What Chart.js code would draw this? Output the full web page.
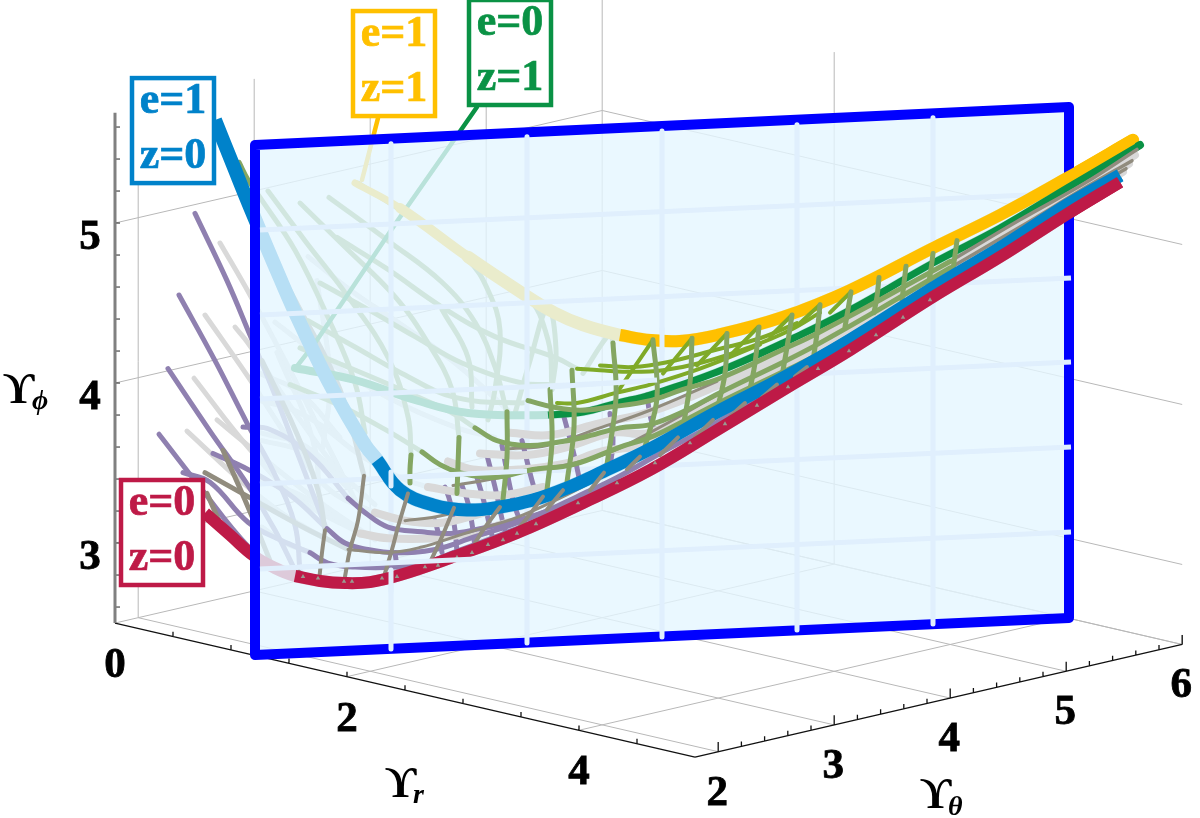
<!DOCTYPE html>
<html>
<head>
<meta charset="utf-8">
<style>
  html, body { margin: 0; padding: 0; background: #fff; }
  canvas { display: block; }
</style>
<script src="https://cdn.jsdelivr.net/npm/chart.js@4/dist/chart.umd.min.js"></script>
</head>
<body>
<canvas id="chart" width="1200" height="818"></canvas>
<script>
// 3D picture flattened on the page plane: x is the horizontal reading (r + theta, in hundreds
// of plane units), y is the height read against the Upsilon_phi axis.
const rTicks = [0, 2, 4];
const thetaTicks = [2, 3, 4, 5, 6];
const phiTicks = [3, 4, 5];
const boxLabels = [["e=1", "z=0"], ["e=1", "z=1"], ["e=0", "z=1"], ["e=0", "z=0"]];

// the four thick edges of the surface
const redCurve = [[2.05,3.188],[2.30,3.050],[2.54,2.919],[2.75,2.844],[2.95,2.794],[3.20,2.763],[3.45,2.750],[3.70,2.756],[4.00,2.800],[4.50,2.906],[5.17,3.063],[5.83,3.250],[6.50,3.456],[7.17,3.706],[7.83,3.956],[8.50,4.206],[9.33,4.538],[10.00,4.788],[10.67,5.056],[11.20,5.256]];
const blueCurve = [[2.15,5.644],[2.33,5.363],[2.50,5.100],[2.80,4.656],[3.00,4.375],[3.33,3.956],[3.65,3.613],[3.77,3.519],[4.00,3.331],[4.33,3.238],[4.67,3.206],[5.00,3.225],[5.33,3.269],[5.67,3.344],[6.00,3.438],[6.50,3.588],[7.17,3.819],[7.83,4.031],[8.50,4.269],[9.33,4.594],[10.00,4.844],[10.67,5.113],[11.20,5.300]];
const yellowCurve = [[3.55,5.250],[4.00,5.094],[4.68,4.788],[5.22,4.563],[5.55,4.438],[5.83,4.363],[6.20,4.300],[6.50,4.269],[6.80,4.263],[7.17,4.300],[7.83,4.413],[8.50,4.581],[9.33,4.844],[10.00,5.050],[10.67,5.281],[11.33,5.519]];
const greenCurve = [[2.95,4.094],[3.55,4.019],[4.15,3.894],[4.68,3.813],[5.48,3.800],[5.83,3.819],[6.17,3.875],[6.50,3.925],[7.17,4.069],[7.83,4.250],[8.50,4.456],[9.33,4.750],[10.00,4.969],[10.67,5.219],[11.40,5.488]];
const yellowLeader = [[3.78,5.656],[3.62,5.269]];
const greenLeader = [[4.77,5.725],[4.47,5.456],[3.98,5.019],[3.15,4.250],[2.97,4.106]];

// mesh behind the panel
const oliveBack = [
  [[2.39,5.38],[2.48,5.27],[2.60,5.16],[2.95,4.83],[3.28,4.41],[3.55,4.00],[3.65,3.69]],
  [[2.68,5.20],[3.05,4.89],[3.48,4.54],[3.88,4.16],[4.08,3.79],[4.11,3.55]],
  [[3.00,5.125],[3.45,4.85],[3.95,4.54],[4.28,4.25],[4.52,3.96],[4.59,3.66]],
  [[3.29,5.16],[3.88,4.89],[4.42,4.63],[4.75,4.38],[4.95,4.10],[5.07,3.81]],
  [[3.58,5.25],[4.15,5.02],[4.68,4.77],[4.88,4.58],[5.00,4.33],[4.95,3.96],[4.88,3.77]],
  [[4.68,4.77],[5.25,4.56],[5.48,4.27],[5.52,3.96]],
  [[3.37,4.91],[3.88,4.71],[4.42,4.475],[4.95,4.29],[5.55,4.16],[5.77,4.09]],
  [[3.20,4.625],[3.68,4.46],[4.15,4.29],[4.62,4.125],[5.22,4.00],[5.52,3.99]],
  [[3.08,4.39],[3.55,4.225],[4.02,4.06],[4.55,3.91],[5.22,3.875],[5.30,3.89]],
  [[3.00,4.22],[3.38,4.125],[3.95,3.975],[4.50,3.82],[4.75,3.72]],
  [[2.90,3.99],[3.40,3.86],[3.85,3.71],[4.22,3.57]],
  [[5.15,3.81],[5.30,4.14],[5.48,4.475],[5.56,4.21],[5.52,3.96]],
  [[5.83,4.06],[6.10,4.31],[6.13,4.25]],
  [[4.42,4.46],[4.68,4.16],[4.72,3.85]]
];
const purpleBack = [
  [[1.95,5.06],[2.27,4.64],[2.50,4.30],[2.75,3.925],[3.00,3.52],[3.25,3.11]],
  [[1.79,4.55],[2.15,4.14],[2.47,3.75],[2.75,3.425],[2.95,3.11],[3.00,2.83]],
  [[1.68,4.09],[2.10,3.70],[2.48,3.36],[2.75,3.08],[2.95,2.83]],
  [[1.59,3.68],[2.00,3.35],[2.48,2.98],[2.80,2.83],[3.00,2.77]],
  [[2.13,3.56],[2.48,3.46],[2.90,3.30],[3.27,3.09]],
  [[1.83,3.44],[2.10,3.38],[2.48,3.13],[2.80,3.02],[3.10,2.94]],
  [[2.43,3.725],[2.70,3.71],[3.10,3.55],[3.48,3.28]]
];
const greyBack = [
  [[2.20,4.875],[2.50,4.55],[2.90,4.08],[3.30,3.58],[3.60,3.21]],
  [[2.05,4.425],[2.48,4.04],[2.90,3.64],[3.30,3.33],[3.75,3.19]],
  [[2.35,4.35],[2.48,4.25],[3.00,3.77],[3.45,3.39]],
  [[1.94,4.03],[2.48,3.60],[3.00,3.27],[3.60,3.06]],
  [[2.17,3.77],[2.48,3.61],[3.10,3.30],[3.75,3.02]],
  [[1.87,3.70],[2.48,3.35],[3.00,3.11],[3.40,2.99]],
  [[2.60,3.89],[2.90,3.84],[3.20,3.74],[3.60,3.55],[4.00,3.41],[4.28,3.35]],
  [[2.62,3.64],[3.00,3.58],[3.40,3.43],[3.75,3.24]],
  [[2.62,3.39],[3.00,3.30],[3.40,3.14],[3.60,3.06]],
  [[3.08,4.79],[3.55,4.56],[3.98,4.38],[4.55,4.125],[5.08,3.83]],
  [[2.75,4.38],[3.22,4.16],[3.88,3.91],[4.55,3.725],[4.95,3.66]],
  [[2.62,3.25],[2.88,3.16],[3.22,3.04],[3.45,2.98]],
  [[2.62,3.10],[2.85,3.00],[3.12,2.94]],
  [[2.60,3.69],[3.07,3.60],[3.47,3.35]],
  [[2.60,4.06],[3.00,3.94],[3.40,3.66]],
  [[3.17,4.64],[3.30,4.02],[3.23,3.60]],
  [[2.77,4.19],[3.13,3.64],[3.20,3.19]]
];
const taupeBack = [
  [[2.05,3.44],[2.48,3.29],[3.00,3.11],[3.48,2.96]],
  [[2.23,3.58],[2.48,3.225],[2.70,2.89]],
  [[2.07,3.31],[2.23,3.08]],
  [[2.62,4.89],[3.00,4.46],[3.40,3.96],[3.64,3.42]],
  [[2.62,4.14],[2.95,3.71],[3.18,3.33],[3.25,3.08]]
];

// mesh in front of the panel
const oliveCross = [
  [[4.11,3.55],[4.10,3.46],[4.10,3.375]],
  [[4.59,3.66],[4.58,3.49],[4.57,3.31]],
  [[5.07,3.82],[5.07,3.54],[5.03,3.27]],
  [[5.50,3.96],[5.52,3.64],[5.47,3.33]],
  [[5.72,4.08],[5.74,3.725],[5.67,3.38]],
  [[6.13,4.25],[6.16,3.91],[6.07,3.49]],
  [[6.53,4.27],[6.57,3.91],[6.45,3.60]],
  [[6.92,4.28],[6.90,4.00],[6.83,3.72]],
  [[7.27,4.31],[7.25,4.06],[7.17,3.83]],
  [[7.59,4.35],[7.55,4.125],[7.50,3.96]],
  [[7.92,4.425],[7.87,4.225],[7.83,4.08]],
  [[8.20,4.49],[8.17,4.31],[8.13,4.14]],
  [[8.51,4.57],[8.48,4.46],[8.45,4.35]],
  [[8.79,4.66],[8.77,4.54],[8.74,4.44]],
  [[9.06,4.73],[9.04,4.625],[9.02,4.52]],
  [[9.33,4.81],[9.31,4.71],[9.28,4.60]],
  [[9.57,4.89],[9.55,4.80],[9.53,4.71]]
];
const oliveTop = [[5.28,3.89],[5.53,3.85],[5.80,3.83],[6.10,3.85],[6.50,3.89],[6.83,3.96],[7.20,4.03],[7.83,4.21],[8.17,4.31],[8.83,4.53],[9.50,4.76],[10.20,5.02],[10.85,5.25],[11.37,5.46]];
const oliveMid = [[4.75,3.72],[4.97,3.64],[5.27,3.61],[5.53,3.625],[5.83,3.66],[6.20,3.72],[6.50,3.74],[6.83,3.82],[7.20,3.94],[7.83,4.13],[8.17,4.24],[8.83,4.475],[9.50,4.72],[10.20,4.975],[10.85,5.22],[11.32,5.39]];
const oliveLow = [[4.22,3.57],[4.40,3.49],[4.60,3.44],[4.93,3.41],[5.33,3.46],[5.73,3.49],[6.20,3.60],[6.50,3.66],[6.83,3.76],[7.20,3.88],[7.83,4.07],[8.17,4.175],[8.83,4.42],[9.50,4.68],[10.20,4.94],[10.85,5.19],[11.26,5.34]];
const limeLines = [
  [[5.77,4.09],[6.00,4.08],[6.33,4.07],[6.63,4.08],[7.00,4.125],[7.50,4.225],[7.90,4.33],[8.20,4.44]],
  [[6.00,4.11],[6.33,4.10],[6.67,4.13],[7.17,4.21],[7.60,4.28],[7.97,4.375]],
  [[5.57,3.875],[5.77,3.875],[6.17,3.94],[6.50,3.99],[7.00,4.09],[7.60,4.24]]
];
const limeSpikes = [
  [[6.53,4.27],[6.17,3.94]],
  [[6.92,4.28],[6.63,4.06]],
  [[7.27,4.31],[6.97,4.11]],
  [[7.58,4.35],[7.33,4.19]],
  [[7.92,4.425],[7.70,4.29]],
  [[8.20,4.49],[8.00,4.375]],
  [[8.51,4.57],[8.30,4.44]]
];
const taupeCross = [
  [[3.64,3.42],[3.58,3.14],[3.50,2.96],[3.45,2.79]],
  [[3.25,3.08],[3.22,2.94],[3.19,2.76]],
  [[2.99,2.82],[3.00,2.77]],
  [[4.08,3.31],[3.98,3.10],[3.92,2.96],[3.83,2.77]],
  [[4.54,3.22],[4.42,3.04],[4.30,2.88],[4.25,2.83]],
  [[5.00,3.225],[4.83,3.08],[4.75,3.00]],
  [[5.43,3.29],[5.23,3.125],[5.13,3.06]],
  [[5.63,3.33],[5.47,3.21]],
  [[6.04,3.44],[5.90,3.33]],
  [[6.40,3.54],[6.27,3.46]],
  [[6.78,3.66],[6.60,3.55]],
  [[7.13,3.77],[6.95,3.66]],
  [[7.45,3.875],[7.30,3.79]],
  [[7.77,3.99],[7.62,3.91]],
  [[8.07,4.10],[7.95,4.04]]
];
const taupeLong = [
  [[3.48,2.96],[3.88,2.94],[4.22,2.975],[4.55,3.04],[4.75,3.08],[5.17,3.16],[5.63,3.29],[6.00,3.41]],
  [[4.05,3.14],[4.32,3.16],[4.55,3.19]],
  [[4.53,3.36],[5.00,3.41],[5.30,3.46],[5.67,3.49],[6.07,3.56],[6.50,3.69],[7.17,3.925]],
  [[5.10,3.59],[5.47,3.61],[6.00,3.72],[6.50,3.83],[7.17,4.01]]
];
const purpleLong = [
  [[3.48,3.28],[3.65,3.19],[3.88,3.10],[4.22,3.07],[4.50,3.06],[4.80,3.09],[5.10,3.13],[5.43,3.19],[5.77,3.28],[6.17,3.39]],
  [[3.27,3.09],[3.45,3.00],[3.68,2.96],[3.95,2.94],[4.35,2.96],[4.75,3.04],[5.10,3.11],[5.43,3.19],[5.77,3.29],[6.17,3.41],[6.60,3.56],[7.13,3.74],[7.77,3.98],[8.10,4.09]],
  [[3.10,2.94],[3.28,2.875],[3.55,2.85],[3.95,2.85],[4.28,2.88],[4.53,2.94],[5.00,3.05],[5.50,3.175],[6.00,3.33]]
];
const purpleCross = [
  [[4.45,3.35],[4.50,3.26],[4.55,3.08],[4.57,2.94]],
  [[4.62,3.36],[4.68,3.25],[4.73,3.08],[4.75,2.96]],
  [[4.77,3.41],[4.83,3.28],[4.90,3.10],[4.93,3.02]],
  [[4.87,3.55],[4.95,3.35],[5.03,3.125],[5.06,3.06]],
  [[5.02,3.61],[5.10,3.35],[5.15,3.225],[5.20,3.14]],
  [[5.22,3.64],[5.32,3.39],[5.37,3.29]],
  [[5.63,3.81],[5.73,3.58],[5.78,3.44],[5.80,3.375]],
  [[6.10,3.81],[6.13,3.64],[6.10,3.475]],
  [[6.47,3.925],[6.50,3.80],[6.55,3.69]],
  [[4.35,3.14],[4.40,3.02],[4.42,2.94]],
  [[3.95,2.94],[3.97,2.85]]
];
const greyLong = [
  [[5.10,3.69],[5.50,3.675],[6.00,3.75],[6.50,3.82],[7.20,3.99],[7.83,4.17],[8.83,4.51],[9.50,4.74],[10.20,5.00],[10.85,5.24],[11.35,5.425]],
  [[4.80,3.56],[5.27,3.55],[5.67,3.60],[6.13,3.69],[6.50,3.69],[7.20,3.91],[7.83,4.10],[8.83,4.45],[9.50,4.70],[10.20,4.96],[10.85,5.21],[11.29,5.37]],
  [[4.48,3.51],[4.73,3.46],[5.20,3.46],[5.67,3.50],[6.00,3.57],[6.50,3.625],[7.20,3.85],[7.83,4.04],[8.83,4.40],[9.50,4.66],[10.20,4.925],[10.85,5.18],[11.23,5.32]],
  [[4.28,3.35],[4.67,3.31],[5.03,3.30],[5.43,3.35]],
  [[3.75,3.19],[4.05,3.14],[4.40,3.125],[4.67,3.16],[5.10,3.24]],
  [[3.60,3.06],[3.88,3.03],[4.35,3.03],[4.67,3.06],[5.10,3.13]]
];
const redMarks = [[3.03,2.79],[3.18,2.78],[3.44,2.76],[3.52,2.76],[3.82,2.78],[3.97,2.79],[4.25,2.85],[4.38,2.86],[4.57,2.91],[4.72,2.94],[4.88,2.99],[5.03,3.02],[5.17,3.06],[5.36,3.12],[5.78,3.25],[6.17,3.375],[6.55,3.50],[6.90,3.625],[7.25,3.745],[7.57,3.86],[7.88,3.975],[8.18,4.09],[8.49,4.20],[8.76,4.30],[9.03,4.41],[9.30,4.52]];

// the blue framed panel and the pale lines ruled on it
const panelCorners = [[2.55,5.488],[10.69,5.725],[10.69,2.531],[2.55,2.300],[2.55,5.488]];
const panelColX = [3.91, 5.27, 6.62, 7.97, 9.33];
const panelColTop = [5.495, 5.539, 5.576, 5.614, 5.658];
const panelColBottom = [2.338, 2.375, 2.413, 2.456, 2.494];
const panelRowLeft = [4.956, 4.425, 3.900, 3.369, 2.838];
const panelRowRight = [5.188, 4.656, 4.131, 3.600, 3.069];
const panelOverlaps = [
  [[3.91,3.444],[3.91,3.356]],
  [[3.91,2.831],[3.91,2.694]],
  [[6.62,4.344],[6.62,4.194]],
  [[4.00,3.413],[5.27,3.45]],
  [[5.50,3.975],[6.57,4.019]],
  [[3.00,2.85],[5.30,2.916]]
];

const RED = "#BE1A47", BLUE = "#0082CA", YELLOW = "#FFC000", GREEN = "#0A9245";
const OLIVE = "#84A662", LIME = "#7FAA28", PURPLE = "#8F80B0", GREY = "#D9D9D9", TAUPE = "#918C7E";
const RULE = "#E0EFFD";
const SERIF = '"Liberation Serif", serif';

function project(r, t, p) {
  return { x: 1.15 + 1.16 * (r + t - 1.8), y: p - 0.1675 * (r - t + 1.8) };
}

function pts(list) {
  return list.map((p) => ({ x: p[0], y: p[1] }));
}

const datasets = [];

function addLine(data, color, width, extra) {
  datasets.push(Object.assign({
    data: data,
    showLine: true,
    borderColor: color,
    backgroundColor: color,
    borderWidth: width,
    pointRadius: 0,
    tension: 0,
    borderCapStyle: "round",
    borderJoinStyle: "round",
    fill: false,
    clip: false,
  }, extra || {}));
}

function addCurves(list, color, width) {
  list.forEach((c) => addLine(pts(c), color, width, { tension: 0.4 }));
}

// many short pieces in one dataset, NaN breaks the line between them
function pieces(list) {
  const out = [];
  list.forEach((seg) => {
    out.push(seg[0], seg[1], { x: NaN, y: NaN });
  });
  return out;
}

// walls and floor
const gridSegs = [];
[2, 3, 4, 5, 6].forEach((t) => {
  gridSegs.push([project(0, t, 2.5), project(0, t, 5.7)]);
  gridSegs.push([project(0, t, 2.5), project(5, t, 2.5)]);
});
[2, 4].forEach((r) => {
  gridSegs.push([project(r, 6, 2.5), project(r, 6, 5.7)]);
  gridSegs.push([project(r, 1.8, 2.5), project(r, 6, 2.5)]);
});
[2.5, 3, 4, 5].forEach((p) => {
  gridSegs.push([project(0, 1.8, p), project(0, 6, p)]);
  gridSegs.push([project(0, 6, p), project(5, 6, p)]);
});
gridSegs.push([project(5, 6, 2.5), project(5, 6, 2.56)]);
addLine(pieces(gridSegs), "#B8B8B8", 1, { borderCapStyle: "butt" });

// axes with their tick marks
const axisSegs = [[project(0, 1.8, 2.5), project(5, 1.8, 2.5)], [project(5, 1.8, 2.5), project(5, 6, 2.5)]];
for (let r = 0.5; r < 5; r += 0.5) {
  axisSegs.push([project(r, 1.8, 2.5), project(r, 1.8, 2.53)]);
}
for (let i = 0; i <= 20; i++) {
  const t = 2 + i * 0.2;
  axisSegs.push([project(5, t, 2.5), project(5, t, i % 5 === 0 ? 2.56 : 2.53)]);
}
addLine(pieces(axisSegs), "#111", 1.3, { borderCapStyle: "butt" });
const phiSegs = [];
for (let p = 2.6; p < 5.7; p += 0.2) {
  phiSegs.push([project(0, 1.8, p), { x: project(0, 1.8, p).x + 0.05, y: project(0, 1.8, p).y }]);
}
addLine(pieces(phiSegs), "#222", 1, { borderCapStyle: "butt" });
addLine([project(0, 1.8, 2.5), project(0, 1.8, 5.69)], "#808080", 3, { borderCapStyle: "butt" });

// everything that sits behind the panel, faded by it
addCurves(greyBack, GREY, 5);
addCurves(purpleBack, PURPLE, 5);
addCurves(taupeBack, TAUPE, 5);
addCurves(oliveBack, OLIVE, 5);
addLine(pts(yellowLeader), YELLOW, 4.5);
addLine(pts(greenLeader), GREEN, 4.5);
const yellowTaper = { borderWidth: (ctx) => (ctx.p0DataIndex < 1 ? 7 : ctx.p0DataIndex < 2 ? 10 : 12.5) };
addLine(pts(yellowCurve), YELLOW, 12.5, { tension: 0.4, segment: yellowTaper });
addLine(pts(greenCurve), GREEN, 8, { tension: 0.4 });
addLine(pts(blueCurve), BLUE, 14, { tension: 0.4, borderCapStyle: "butt" });
addLine(pts(redCurve), RED, 12, { tension: 0.4, borderCapStyle: "butt" });

// panel and frame
addLine(pts(panelCorners), "#0000FF", 10, { fill: "shape", backgroundColor: "rgba(229,246,255,0.8)" });

panelRowLeft.forEach((v, i) => {
  addLine([{ x: 2.6, y: v }, { x: 10.71, y: panelRowRight[i] }], RULE, 5, { borderCapStyle: "butt" });
});
panelColX.forEach((v, i) => {
  addLine([{ x: v, y: panelColTop[i] }, { x: v, y: panelColBottom[i] }], RULE, 5, { borderCapStyle: "butt" });
});

// front part of the surface
addLine(pts(yellowCurve.slice(6)), YELLOW, 12, { tension: 0.4, borderCapStyle: "butt" });
addCurves(purpleCross, PURPLE, 5);
addCurves(greyLong, GREY, 8);
addCurves(purpleLong, PURPLE, 5);
addCurves(taupeLong, TAUPE, 3);
addLine(pts(greenCurve.slice(4)), GREEN, 7, { tension: 0.4, borderCapStyle: "butt" });
addCurves([oliveTop.slice(-4), oliveMid.slice(-4), oliveLow.slice(-4)], TAUPE, 3.5);
addCurves(limeLines, LIME, 4);
limeSpikes.forEach((s) => addLine(pts(s), LIME, 4));
addCurves([oliveTop.slice(0, -3), oliveMid.slice(0, -3), oliveLow.slice(0, -3)], OLIVE, 5);
addCurves(oliveCross, OLIVE, 5);
addLine(pts(blueCurve.slice(7)), BLUE, 13, { tension: 0.4, borderCapStyle: "butt" });
addCurves(taupeCross, TAUPE, 4);
addLine(pts(redCurve.slice(4)), RED, 12, { tension: 0.4, borderCapStyle: "butt" });
datasets.push({
  data: pts(redMarks),
  showLine: false,
  pointStyle: "triangle",
  pointRadius: 2.6,
  borderWidth: 0,
  backgroundColor: "#9A9A90",
  clip: false,
});
panelOverlaps.forEach((s) => addLine(pts(s), RULE, 5, { borderCapStyle: "butt" }));

datasets.forEach((d, i) => { d.order = -i; });

function heavyText(ctx, text, x, y) {
  ctx.fillText(text, x, y);
  ctx.strokeText(text, x, y);
}

const textPlugin = {
  id: "plotText",
  afterDraw(chart) {
    const ctx = chart.ctx;
    const sx = chart.scales.x;
    const sy = chart.scales.y;
    const px = (p) => ({ x: sx.getPixelForValue(p.x), y: sy.getPixelForValue(p.y) });
    ctx.save();
    ctx.textAlign = "center";
    ctx.textBaseline = "alphabetic";
    ctx.fillStyle = "#000";
    ctx.strokeStyle = "#000";
    ctx.lineWidth = 0.8;
    ctx.font = "bold 43px " + SERIF;
    rTicks.forEach((r) => {
      const p = px(project(r, 1.8, 2.5));
      heavyText(ctx, String(r), p.x, p.y + 54);
    });
    thetaTicks.forEach((t) => {
      const p = px(project(5, t, 2.5));
      heavyText(ctx, String(t), p.x - 1, p.y + 53);
    });
    phiTicks.forEach((v) => {
      const p = px(project(0, 1.8, v));
      heavyText(ctx, String(v), p.x - 25, p.y + 26);
    });

    // axis titles, Upsilon then its subscript
    ctx.textAlign = "left";
    const titles = [
      [0.03, 3.875, "ϕ", 0.32, 3.84],
      [3.85, 1.413, "r", 4.13, 1.376],
      [9.2, 1.344, "θ", 9.48, 1.30],
    ];
    titles.forEach((t) => {
      ctx.font = "bold 44px " + SERIF;
      ctx.fillText("ϒ", sx.getPixelForValue(t[0]), sy.getPixelForValue(t[1]));
      ctx.font = "italic bold 28px " + SERIF;
      ctx.fillText(t[2], sx.getPixelForValue(t[3]), sy.getPixelForValue(t[4]));
    });

    // boxed curve labels
    const boxX = [1.32, 3.53, 4.69, 1.21];
    const boxTop = [5.906, 6.325, 6.394, 3.394];
    const boxColor = [BLUE, YELLOW, GREEN, RED];
    ctx.textAlign = "center";
    ctx.font = "bold 44px " + SERIF;
    boxLabels.forEach((lines, i) => {
      const x = sx.getPixelForValue(boxX[i]);
      const y = sy.getPixelForValue(boxTop[i]);
      ctx.fillStyle = "#fff";
      ctx.fillRect(x, y, 82, 105);
      ctx.strokeStyle = boxColor[i];
      ctx.lineWidth = 4.5;
      ctx.strokeRect(x, y, 82, 105);
      ctx.fillStyle = boxColor[i];
      ctx.lineWidth = 0.7;
      heavyText(ctx, lines[0], x + 41, y + 35);
      heavyText(ctx, lines[1], x + 41, y + 90);
    });
    ctx.restore();
  },
};

new Chart(document.getElementById("chart"), {
  type: "scatter",
  data: { datasets: datasets },
  options: {
    responsive: false,
    animation: false,
    events: [],
    layout: { padding: 0, autoPadding: false },
    scales: {
      x: { type: "linear", display: false, min: 0, max: 12 },
      y: { type: "linear", display: false, min: 1.2815, max: 6.394 },
    },
    plugins: {
      legend: { display: false },
      tooltip: { enabled: false },
    },
  },
  plugins: [textPlugin],
});
</script>
</body>
</html>
